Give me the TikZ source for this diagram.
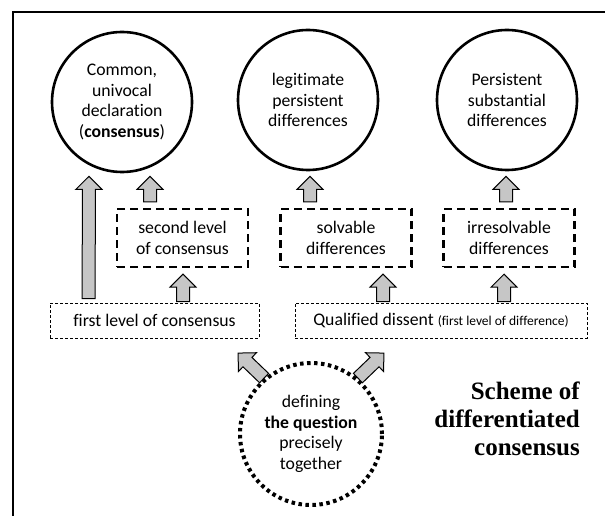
\documentclass[tikz,border=0pt]{standalone}
\usepackage{fontspec}
\setmainfont[Ligatures=NoCommon]{Carlito}
\newfontfamily\titlefont{Liberation Serif}
\usetikzlibrary{calc}

\newcommand{\blockarrow}[2]{%
  \draw[blockarr] let \p1=(#1), \p2=(#2), \n1={atan2(\y2-\y1,\x2-\x1)}, \n2={veclen(\x2-\x1,\y2-\y1)} in
    [shift={(\p1)}, rotate=\n1] (0,-6.5) -- (\n2-13,-6.5) -- (\n2-13,-13) -- (\n2,0) -- (\n2-13,13) -- (\n2-13,6.5) -- (0,6.5) -- cycle;}

\begin{document}
\begin{tikzpicture}[x=1pt, y=-1pt,
    every node/.style={font=\fontsize{17.7}{20.5}\selectfont, align=center, inner sep=0pt},
    outcome/.style={circle, draw, line width=2.6pt, minimum size=140pt},
    dashbox/.style={draw, line width=2.4pt, dash pattern=on 8pt off 5pt, minimum width=131pt, minimum height=58pt},
    thinbox/.style={draw, line width=0.9pt, dash pattern=on 3pt off 2pt, minimum height=35pt},
    question/.style={circle, draw, line width=4pt, dash pattern=on 3.5pt off 3.5pt, minimum size=142pt},
    blockarr/.style={draw, fill=gray!45, line width=1pt}]
    \useasboundingbox (0,0) rectangle (605,516);
    \draw[line width=1.8pt] (13,540) |- (630,12);

    \node[outcome] (c1) at (122,102) {Common,\\univocal\\declaration\\(\textbf{consensus})};
    \node[outcome] (c2) at (308,100) {legitimate\\persistent\\differences};
    \node[outcome] (c3) at (507,100) {Persistent\\substantial\\differences};
    \node[dashbox] (b1) at (182.5,238) {second level\\of consensus};
    \node[dashbox] (b2) at (346,238) {solvable\\differences};
    \node[dashbox] (b3) at (509,238) {irresolvable\\differences};
    \node[thinbox, minimum width=209pt] (f1) at (154.5,320.5) {first level of consensus};
    \node[thinbox, minimum width=292pt] (q1) at (441,320.5) {Qualified dissent {\fontsize{13.5}{15}\selectfont(first level of difference)}};
    \node[question] (d) at (311,434) {defining\\\textbf{the question}\\precisely\\together};
    \node[anchor=east, align=right, font=\titlefont\bfseries\fontsize{25}{28}\selectfont] (t) at (580,419) {Scheme of\\differentiated\\consensus};

    \blockarrow{$(f1.north west)+(39,-4)$}{$(c1.south)+(-33,3)$}
    \blockarrow{$(b1.north)+(-32.5,-6)$}{$(c1.south)+(28,3)$}
    \blockarrow{$(b2.north)+(-36,-6)$}{$(c2.south)+(2,5)$}
    \blockarrow{$(b3.north)+(-3,-6)$}{$(c3.south)+(-1,5)$}
    \blockarrow{$(f1.north)+(28.5,-1)$}{$(b1.south)+(0.5,6)$}
    \blockarrow{$(q1.north)+(-58,-1)$}{$(b2.south)+(37,6)$}
    \blockarrow{$(q1.north)+(63,-1)$}{$(b3.south)+(-5,6)$}
    \blockarrow{d.130}{$(d.130)+(-26,-25)$}
    \blockarrow{d.50}{$(d.50)+(26,-25)$}
\end{tikzpicture}
\end{document}
